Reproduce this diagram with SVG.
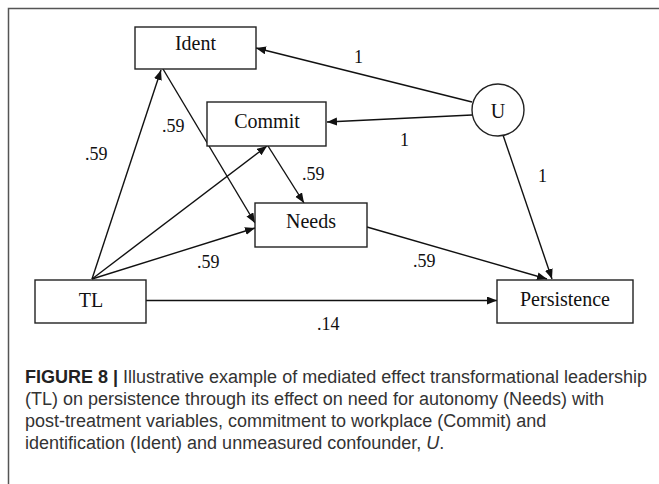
<svg xmlns="http://www.w3.org/2000/svg" width="659" height="484" viewBox="0 0 659 484">
<style>
.box{fill:#fff;stroke:#222;stroke-width:1.4}
.lbl{font-family:"Liberation Serif","Times New Roman",serif;font-size:20px;fill:#111;text-anchor:middle}
.num{font-family:"Liberation Serif","Times New Roman",serif;font-size:18px;fill:#111}
.edge{stroke:#111;stroke-width:1.4;fill:none;marker-end:url(#ah)}
.plain{stroke:#111;stroke-width:1.4;fill:none}
.cap{font-family:"Liberation Sans",Arial,sans-serif;font-size:18px;fill:#333}
</style>
<defs>
<marker id="ah" markerUnits="userSpaceOnUse" markerWidth="11" markerHeight="9" refX="10" refY="4" orient="auto">
<path d="M0,0 L10,4 L0,8 z" fill="#111"/>
</marker>
</defs>
<rect width="659" height="484" fill="#fff"/>
<path d="M8.5,484 V8.5 H659" fill="none" stroke="#555" stroke-width="1.5"/>
<g id="connectors">
<line class="edge" x1="92" y1="279" x2="161" y2="70"/>
<line class="edge" x1="92" y1="279" x2="267" y2="146"/>
<line class="edge" x1="92" y1="279" x2="255" y2="228"/>
<line class="edge" x1="163" y1="69" x2="255" y2="223"/>
<line class="edge" x1="268" y1="146" x2="304" y2="203"/>
<line class="edge" x1="472" y1="102" x2="256" y2="48"/>
<line class="edge" x1="472" y1="115" x2="327" y2="122"/>
<line class="edge" x1="503" y1="135" x2="552" y2="279"/>
<line class="edge" x1="367" y1="227" x2="547" y2="279"/>
<line class="edge" x1="146" y1="300.5" x2="497" y2="300.5"/>
<text class="num" x="354" y="63">1</text>
<text class="num" x="400" y="146">1</text>
<text class="num" x="538" y="182">1</text>
<text class="num" x="162" y="132">.59</text>
<text class="num" x="85" y="160">.59</text>
<text class="num" x="302" y="180">.59</text>
<text class="num" x="197" y="268">.59</text>
<text class="num" x="413" y="267">.59</text>
<text class="num" x="317" y="330">.14</text>
</g>
<g id="ident"><rect class="box" x="135" y="27" width="121" height="42"/><text class="lbl" x="195.5" y="50">Ident</text></g>
<g id="commit"><rect class="box" x="207" y="102" width="119" height="44"/><text class="lbl" x="267" y="128">Commit</text></g>
<g id="u"><circle cx="498" cy="110" r="26" fill="#fff" stroke="#222" stroke-width="1.4"/><text class="lbl" x="498" y="118">U</text></g>
<g id="needs"><rect class="box" x="255" y="203" width="112" height="44"/><text class="lbl" x="311" y="228">Needs</text></g>
<g id="tl"><rect class="box" x="35" y="280" width="111" height="43"/><text class="lbl" x="91" y="307">TL</text></g>
<g id="persistence"><rect class="box" x="497" y="280" width="136" height="43"/><text class="lbl" x="565" y="306">Persistence</text></g>
<g id="caption">
<text class="cap" x="25" y="383"><tspan font-weight="bold" fill="#222">FIGURE 8 |</tspan> Illustrative example of mediated effect transformational leadership</text>
<text class="cap" x="25" y="405">(TL) on persistence through its effect on need for autonomy (Needs) with</text>
<text class="cap" x="25" y="427">post-treatment variables, commitment to workplace (Commit) and</text>
<text class="cap" x="25" y="449">identification (Ident) and unmeasured confounder, <tspan font-style="italic">U</tspan>.</text>
</g>
</svg>
